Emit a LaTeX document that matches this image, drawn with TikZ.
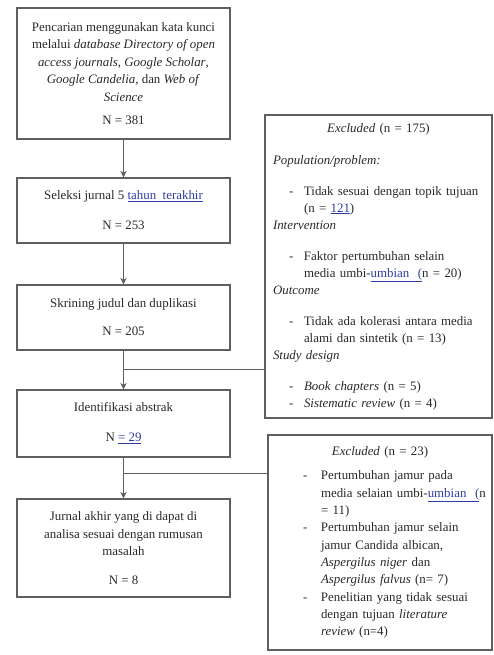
\documentclass[tikz,border=0pt]{standalone}
\usepackage{fontspec}
\setmainfont{Liberation Serif}
\usetikzlibrary{arrows.meta,calc}
\definecolor{lnk}{RGB}{45,60,160}
\definecolor{txt}{RGB}{40,40,40}
\definecolor{edge}{RGB}{95,95,95}
\newcommand{\bul}[1]{{\color{lnk}\underline{#1}}}
\newcommand{\dsh}[1]{\hspace*{#1}\makebox[0pt][l]{-}}
\begin{document}
\begin{tikzpicture}[x=1pt,y=-1pt,
  box/.style={draw=edge, line width=1.25pt, rectangle, inner sep=0pt, align=center,
    minimum width=213pt, font=\fontsize{12.9}{17.5}\selectfont, text=txt},
  rbox/.style={draw=edge, line width=1.25pt, rectangle, inner ysep=0pt, inner xsep=4pt, align=left,
    font=\fontsize{12.9}{17}\selectfont, text=txt},
  arr/.style={draw=edge, line width=1pt, -{Stealth[length=6.5pt,width=6.5pt]}},
  ln/.style={draw=edge, line width=1pt}]
\useasboundingbox (0,0) rectangle (494,655);

\node[box, minimum height=131pt] (b1) at (123.5,73.5) {Pencarian menggunakan kata kunci\\ melalui \textit{database Directory of open}\\ \textit{access journals}, \textit{Google Scholar},\\ \textit{Google Candelia}, dan \textit{Web of}\\ \textit{Science}\\[5.5pt] N = 381};

\node[box, minimum height=65pt] (b2) at (123.5,210.5) {Seleksi jurnal 5 \bul{tahun\ \ terakhir}\\[12.5pt] N = 253};

\node[box, minimum height=65pt] (b3) at (123.5,317.5) {Skrining judul dan duplikasi\\[10.5pt] N = 205};

\node[box, minimum height=67pt] (b4) at (123.5,423.5) {Identifikasi abstrak\\[12.5pt] N \bul{= 29}};

\node[box, minimum height=98pt] (b5) at (123.5,548) {Jurnal akhir yang di dapat di\\ analisa sesuai dengan rumusan\\ masalah\\[11pt] N = 8};

\node[rbox, minimum width=227pt, minimum height=303pt, text width=219pt] (r1) at (378.5,266.5) {%
\makebox[219pt]{\textit{Excluded} (n = 175)}\\[15pt]
\hspace*{4pt}\mbox{\textit{Population/problem:}}\\[14pt]
\dsh{20pt}\hspace*{15pt}\mbox{Tidak sesuai dengan topik tujuan}\\
\hspace*{35pt}\mbox{(n = \bul{121})}\\
\hspace*{4pt}\textit{Intervention}\\[14pt]
\dsh{20pt}\hspace*{15pt}\mbox{Faktor pertumbuhan selain}\\
\hspace*{35pt}\mbox{media umbi-\bul{umbian\ \ (}n = 20)}\\
\hspace*{4pt}\textit{Outcome}\\[14pt]
\dsh{20pt}\hspace*{15pt}\mbox{Tidak ada kolerasi antara media}\\
\hspace*{35pt}\mbox{alami dan sintetik (n = 13)}\\
\hspace*{4pt}\mbox{\textit{Study design}}\\[14pt]
\dsh{20pt}\hspace*{15pt}\mbox{\textit{Book chapters} (n = 5)}\\
\dsh{20pt}\hspace*{15pt}\mbox{\textit{Sistematic review} (n = 4)}};

\node[rbox, minimum width=224pt, minimum height=215pt, text width=216pt, font=\fontsize{12.9}{17.3}\selectfont] (r2) at (380,542.5) {%
\makebox[216pt]{\textit{Excluded} (n = 23)}\\[7pt]
\dsh{31pt}\hspace*{18pt}\mbox{Pertumbuhan jamur pada}\\
\hspace*{49pt}\mbox{media selaian umbi-\bul{umbian\ \ (}n}\\
\hspace*{49pt}\mbox{= 11)}\\
\dsh{31pt}\hspace*{18pt}\mbox{Pertumbuhan jamur selain}\\
\hspace*{49pt}\mbox{jamur Candida albican,}\\
\hspace*{49pt}\mbox{\textit{Aspergilus niger} dan}\\
\hspace*{49pt}\mbox{\textit{Aspergilus falvus} (n= 7)}\\
\dsh{31pt}\hspace*{18pt}\mbox{Penelitian yang tidak sesuai}\\
\hspace*{49pt}\mbox{dengan tujuan \textit{literature}}\\
\hspace*{49pt}\mbox{\textit{review} (n=4)}};

\coordinate (j1) at ($(b3.south)!0.475!(b4.north)$);
\coordinate (j2) at ($(b4.south)!0.38!(b5.north)$);

\draw[arr] (b1) -- (b2);
\draw[arr] (b2) -- (b3);
\draw[arr] (b3) -- (b4);
\draw[arr] (b4) -- (b5);
\draw[ln] (j1) -- (j1 -| r1.west);
\draw[ln] (j2) -- (j2 -| r2.west);
\end{tikzpicture}
\end{document}
